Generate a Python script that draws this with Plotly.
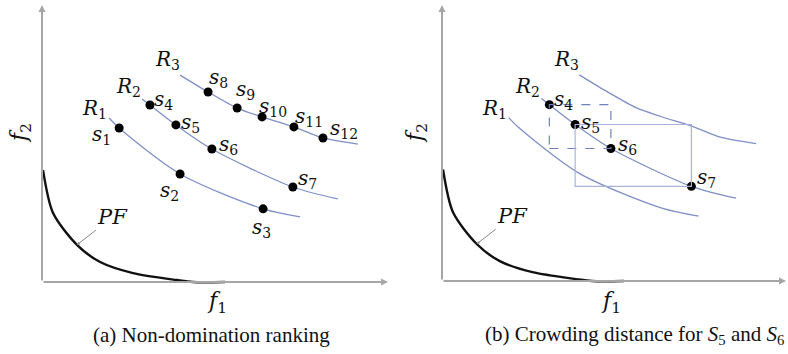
import plotly.graph_objects as go

# ---- data (in f1/f2 units, axes origin = 0) ----
pf_x = [0.03, 0.32, 1.01, 1.68, 2.63, 3.90, 4.36, 5.29]
pf_y = [4.04, 2.49, 1.34, 0.72, 0.32, 0.07, 0.0, 0.0]

r1_x = [1.94, 2.23, 3.99, 6.39, 7.46]
r1_y = [5.92, 5.56, 3.90, 2.64, 2.35]
r2_x = [2.89, 3.12, 3.87, 4.91, 7.25, 8.55]
r2_y = [6.61, 6.39, 5.67, 4.80, 3.43, 3.00]
r3_x = [3.99, 4.80, 5.64, 6.36, 7.28, 8.12, 9.13]
r3_y = [7.47, 6.86, 6.28, 5.96, 5.60, 5.20, 4.98]

sol_names = ["s1", "s2", "s3", "s4", "s5", "s6", "s7", "s8", "s9", "s10", "s11", "s12"]
sol_x = [2.23, 3.99, 6.39, 3.12, 3.87, 4.91, 7.25, 4.80, 5.64, 6.36, 7.28, 8.12]
sol_y = [5.56, 3.90, 2.64, 6.39, 5.67, 4.80, 3.43, 6.86, 6.28, 5.96, 5.60, 5.20]
# label offsets (pixels) for each solution label
lab_dx = [-18, -11, -2, 14, 15, 17, 15, 10, 8, 11, 15, 21]
lab_dy = [7, 17, 19, -5, -2, -4, -8, -14, -18, -10, -10, -9]

front_names = ["R1", "R2", "R3"]
front_lab_x = [1.53, 2.49, 3.62]
front_lab_y = [6.24, 7.04, 8.02]

crowd_idx = [3, 4, 5, 6]  # s4..s7 shown in panel (b)

captions = ["(a) Non-domination ranking",
            "(b) Crowding distance for <i>S</i><sub>5</sub> and <i>S</i><sub>6</sub>"]

W, H = 788, 354
MATH = "DejaVu Serif"
CURVE = "#7f8fc8"
AXC = "#a6a6a6"

fig = go.Figure()

def sub(name):
    return f"<i>{name[0]}</i><sub>{name[1:]}</sub>"

panels = [("x", "y"), ("x2", "y2")]
for p, (xa, ya) in enumerate(panels):
    for fx, fy in [(r1_x, r1_y), (r2_x, r2_y), (r3_x, r3_y)]:
        fig.add_trace(go.Scatter(x=fx, y=fy, mode="lines", line=dict(color=CURVE, width=1.3, shape="spline", smoothing=0.8),
                                 xaxis=xa, yaxis=ya, hoverinfo="skip", showlegend=False))
    fig.add_trace(go.Scatter(x=pf_x, y=pf_y, mode="lines", line=dict(color="#111", width=2.4, shape="spline", smoothing=0.8),
                             xaxis=xa, yaxis=ya, hoverinfo="skip", showlegend=False, cliponaxis=False))
    idxs = list(range(12)) if p == 0 else crowd_idx
    if p == 1:
        i4, i5, i6, i7 = crowd_idx
        fig.add_shape(type="rect", x0=sol_x[i4], x1=sol_x[i6], y0=sol_y[i6], y1=sol_y[i4],
                      xref=xa, yref=ya, line=dict(color="#7080b8", width=1.2, dash="dash"))
        fig.add_shape(type="rect", x0=sol_x[i5], x1=sol_x[i7], y0=sol_y[i7], y1=sol_y[i5],
                      xref=xa, yref=ya, line=dict(color="#a9b3da", width=1.2))
    fig.add_trace(go.Scatter(x=[sol_x[i] for i in idxs], y=[sol_y[i] for i in idxs], mode="markers",
                             marker=dict(color="black", size=9), xaxis=xa, yaxis=ya, hoverinfo="skip", showlegend=False))
    for i in idxs:
        fig.add_annotation(x=sol_x[i], y=sol_y[i], xref=xa, yref=ya, text=sub(sol_names[i]), showarrow=False,
                           xshift=lab_dx[i], yshift=-lab_dy[i], font=dict(family=MATH, size=20, color="#111"))
    for k, n in enumerate(front_names):
        fig.add_annotation(x=front_lab_x[k], y=front_lab_y[k], xref=xa, yref=ya, text=sub(n), showarrow=False,
                           font=dict(family=MATH, size=20, color="#111"))
    fig.add_annotation(x=pf_x[2], y=pf_y[2], xref=xa, yref=ya, text="<i>PF</i>", showarrow=True,
                       ax=36, ay=-28, arrowhead=2, arrowsize=0.6, arrowwidth=1, arrowcolor="#888",
                       font=dict(family=MATH, size=21, color="#111"))
    fig.add_annotation(x=10, y=0, ax=0, ay=0, xref=xa, yref=ya, axref=xa, ayref=ya, text="", showarrow=True,
                       arrowhead=2, arrowsize=0.7, arrowwidth=2, arrowcolor=AXC)
    fig.add_annotation(x=0, y=10, ax=0, ay=0, xref=xa, yref=ya, axref=xa, ayref=ya, text="", showarrow=True,
                       arrowhead=2, arrowsize=0.7, arrowwidth=2, arrowcolor=AXC)

# axis titles (paper coords)
f1_px = [217, 611]
f2_px = [20, 416]
for k in range(2):
    fig.add_annotation(x=f1_px[k] / W, y=1 - 302 / H, xref="paper", yref="paper", xanchor="center", yanchor="middle",
                       text="<i>f</i><sub>1</sub>", showarrow=False, font=dict(family=MATH, size=22, color="#111"))
    fig.add_annotation(x=f2_px[k] / W, y=1 - 133 / H, xref="paper", yref="paper", xanchor="center", yanchor="middle",
                       text="<i>f</i><sub>2</sub>", showarrow=False, textangle=-90,
                       font=dict(family=MATH, size=22, color="#111"))

# captions
cap_px = [212, 634]
for k in range(2):
    fig.add_annotation(x=cap_px[k] / W, y=1 - 335 / H, xref="paper", yref="paper", xanchor="center", yanchor="middle",
                       text=captions[k], showarrow=False,
                       font=dict(family="Liberation Serif", size=21, color="#111"))

ax_common = dict(visible=False, showgrid=False, zeroline=False, fixedrange=True)
fig.update_layout(
    width=W, height=H, margin=dict(l=0, r=0, t=0, b=0),
    paper_bgcolor="white", plot_bgcolor="white",
    xaxis=dict(domain=[0.03574, 0.49678], range=[-0.4, 10.1], **ax_common),
    yaxis=dict(domain=[0.17209, 0.99370], range=[-0.4, 10.1], **ax_common),
    xaxis2=dict(domain=[0.54345, 0.99746], range=[-0.4, 10.0], **ax_common),
    yaxis2=dict(domain=[0.17503, 0.99367], range=[-0.4, 10.1], **ax_common),
)

fig.write_html("out.html")
